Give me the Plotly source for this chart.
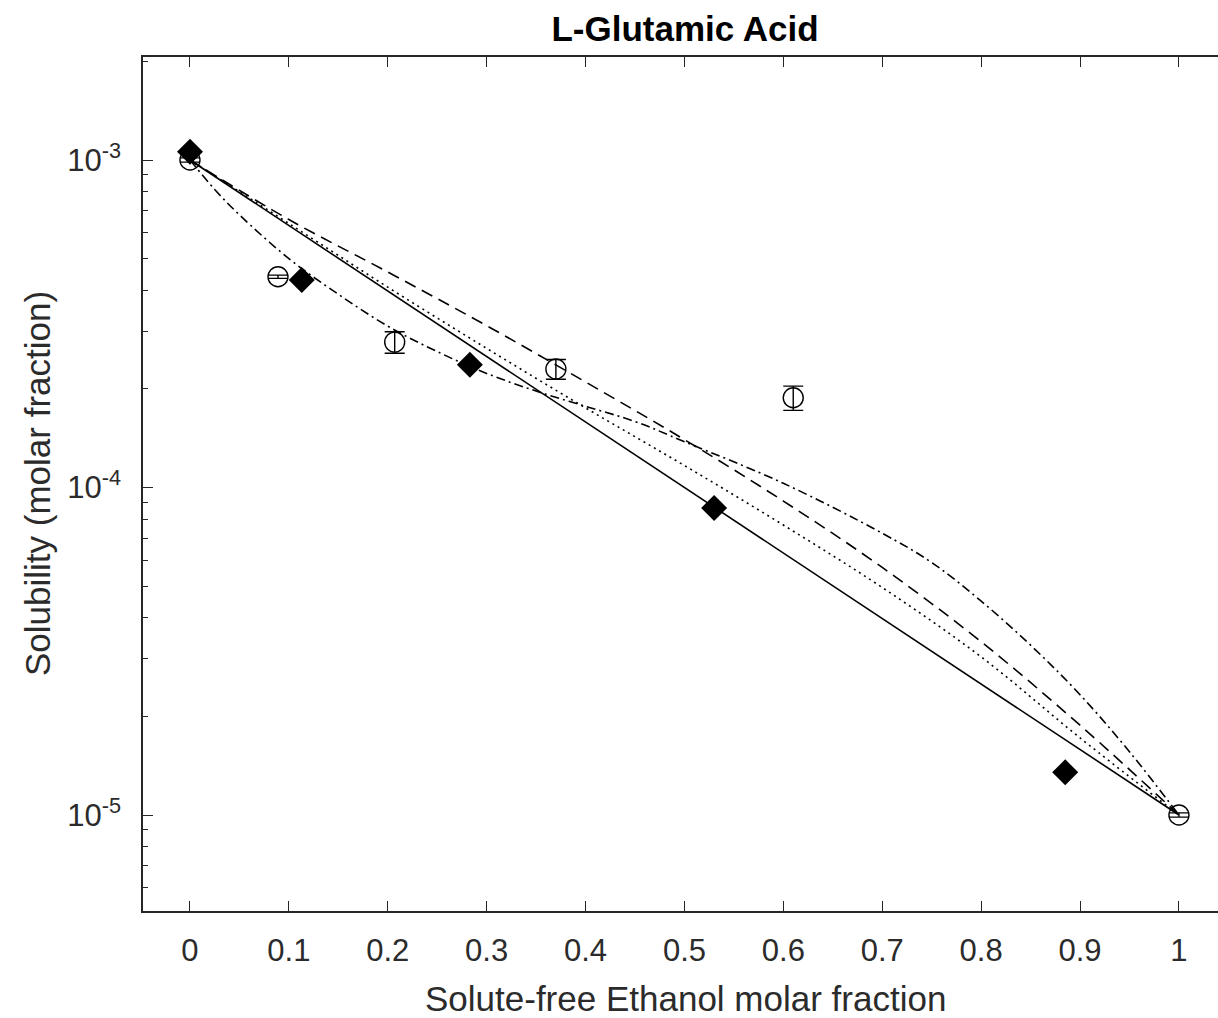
import plotly.graph_objects as go

# Experimental solubility (open circles, with error bars)
exp_x = [0.0, 0.089, 0.207, 0.370, 0.610, 1.0]
exp_y = [1.0e-3, 4.40e-4, 2.78e-4, 2.30e-4, 1.88e-4, 1.0e-5]
exp_err = [1.5e-5, 5.0e-6, 2.1e-5, 1.6e-5, 1.6e-5, 1.5e-7]

# Literature solubility (filled diamonds)
lit_x = [0.0, 0.113, 0.283, 0.530, 0.885]
lit_y = [1.06e-3, 4.30e-4, 2.37e-4, 8.66e-5, 1.35e-5]

# Model curves
model_x = [0.0, 0.1, 0.2, 0.3, 0.4, 0.5, 0.6, 0.7, 0.8, 0.9, 1.0]
solid_y = [1.0e-3, 6.31e-4, 3.98e-4, 2.51e-4, 1.585e-4, 1.0e-4, 6.31e-5, 3.98e-5, 2.51e-5, 1.585e-5, 1.0e-5]
dotted_y = [1.0e-3, 6.40e-4, 4.09e-4, 2.66e-4, 1.75e-4, 1.167e-4, 7.68e-5, 4.95e-5, 3.04e-5, 1.72e-5, 1.0e-5]
dashed_y = [1.0e-3, 6.58e-4, 4.55e-4, 3.12e-4, 2.10e-4, 1.40e-4, 9.09e-5, 5.70e-5, 3.38e-5, 1.88e-5, 1.0e-5]

dashdot_x = [0.0, 0.025, 0.05, 0.1, 0.15, 0.2, 0.25, 0.3, 0.35, 0.4, 0.45, 0.5,
             0.6, 0.7, 0.75, 0.8, 0.85, 0.9, 0.95, 1.0]
dashdot_y = [1.0e-3, 8.13e-4, 6.80e-4, 5.00e-4, 3.89e-4, 3.11e-4, 2.60e-4, 2.23e-4,
             1.97e-4, 1.77e-4, 1.59e-4, 1.38e-4, 1.03e-4, 7.25e-5, 5.90e-5, 4.50e-5,
             3.30e-5, 2.33e-5, 1.56e-5, 1.0e-5]

x_ticks = [0.0, 0.1, 0.2, 0.3, 0.4, 0.5, 0.6, 0.7, 0.8, 0.9, 1.0]
x_ticktext = ["0", "0.1", "0.2", "0.3", "0.4", "0.5", "0.6", "0.7", "0.8", "0.9", "1"]
y_ticks = [1e-5, 1e-4, 1e-3]
y_ticktext = ["10<sup>-5</sup>", "10<sup>-4</sup>", "10<sup>-3</sup>"]
y_minor = [m * 10.0 ** e for e in (-6, -5, -4, -3) for m in range(2, 10)]

FONT = "Liberation Sans, Arial, sans-serif"
AXC = "#262626"
TXT = "#2b2b2b"

fig = go.Figure()

fig.add_trace(go.Scatter(x=model_x, y=solid_y, mode="lines",
                         line=dict(color="black", width=1.6)))
fig.add_trace(go.Scatter(x=model_x, y=dotted_y, mode="lines",
                         line=dict(color="black", width=1.6, dash="2px,4px", shape="spline")))
fig.add_trace(go.Scatter(x=model_x, y=dashed_y, mode="lines",
                         line=dict(color="black", width=1.6, dash="12px,7px", shape="spline")))
fig.add_trace(go.Scatter(x=dashdot_x, y=dashdot_y, mode="lines",
                         line=dict(color="black", width=1.6, dash="9px,4px,2px,4px", shape="spline")))

fig.add_trace(go.Scatter(
    x=exp_x, y=exp_y, mode="markers",
    marker=dict(symbol="circle-open", size=20, color="black", line=dict(width=1.4, color="black")),
    error_y=dict(type="data", array=exp_err, visible=True, color="black", thickness=1.4, width=10),
))
fig.add_trace(go.Scatter(
    x=lit_x, y=lit_y, mode="markers",
    marker=dict(symbol="diamond", size=20, color="black", line=dict(width=0)),
))

fig.update_layout(
    width=1218, height=1018,
    margin=dict(l=143, r=0, t=57, b=107),
    paper_bgcolor="white", plot_bgcolor="white",
    showlegend=False,
    font=dict(family=FONT, color=TXT),
    title=dict(text="<b>L-Glutamic Acid</b>", xref="container", yref="container",
               x=685 / 1218, y=1 - 29 / 1018, xanchor="center", yanchor="middle",
               font=dict(family=FONT, size=35, color="black")),
)

fig.update_xaxes(
    range=[-0.0475, 1.0395], tickvals=x_ticks, ticktext=x_ticktext,
    ticks="inside", ticklen=10, tickwidth=1.3, tickcolor=AXC,
    showline=True, linecolor=AXC, linewidth=1.5, mirror="ticks",
    showgrid=False, zeroline=False, automargin=False,
    tickfont=dict(family=FONT, size=31, color=TXT), ticklabelstandoff=11,
)
fig.update_yaxes(
    type="log", range=[-5.2931, -2.6855], tickvals=y_ticks, ticktext=y_ticktext,
    ticks="inside", ticklen=10, tickwidth=1.3, tickcolor=AXC,
    minor=dict(tickvals=y_minor, ticks="inside", ticklen=5, tickwidth=1.1,
               tickcolor=AXC, showgrid=False),
    showline=True, linecolor=AXC, linewidth=1.5, mirror=False,
    showgrid=False, zeroline=False, automargin=False,
    tickfont=dict(family=FONT, size=31, color=TXT), ticklabelstandoff=14,
)

fig.add_annotation(text="Solute-free Ethanol molar fraction", xref="paper", yref="paper",
                   x=(685 - 143) / 1075, y=0, xanchor="center", yanchor="middle",
                   yshift=-87, showarrow=False,
                   font=dict(family=FONT, size=35, color=TXT))
fig.add_annotation(text="Solubility (molar fraction)", xref="paper", yref="paper",
                   x=0, y=0.5, xanchor="center", yanchor="middle", xshift=-106,
                   textangle=-90, showarrow=False,
                   font=dict(family=FONT, size=35, color=TXT))

fig.write_html("out.html")
